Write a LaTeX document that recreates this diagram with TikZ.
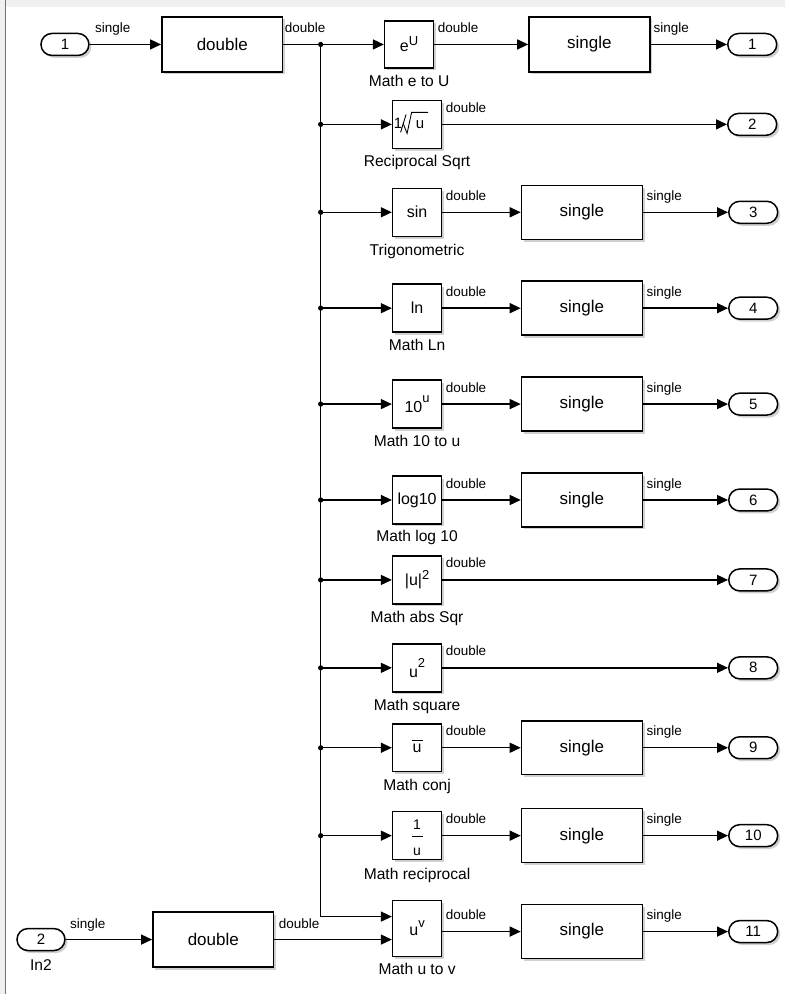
\documentclass[tikz,border=0pt]{standalone}
\usepackage{fontspec}
\setmainfont{Liberation Sans}
\usetikzlibrary{arrows.meta,shadows}
\newcommand\mysup[2]{\raisebox{#1pt}{\fontsize{13}{13}\selectfont #2}}
\begin{document}
\begin{tikzpicture}[x=1pt,y=-1pt,
  blk/.style={draw=black, line width=1.5pt, fill=white, inner sep=0pt,
    drop shadow={shadow xshift=2.5pt, shadow yshift=-2.5pt, opacity=0.3, fill=black!60}},
  conv/.style={blk, minimum width=121pt, minimum height=55pt, font=\fontsize{17}{19}\selectfont},
  mblk/.style={blk, minimum width=49pt, minimum height=48pt, font=\fontsize{16}{18}\selectfont},
  port/.style={blk, rounded corners=11pt, minimum width=49pt, minimum height=22pt, font=\fontsize{15}{17}\selectfont},
  sig/.style={font=\fontsize{13.5}{15}\selectfont, inner sep=0pt, anchor=base west},
  bcap/.style={font=\fontsize{15.6}{17}\selectfont, inner sep=0pt, anchor=base},
  plain/.style={line width=1.4pt},
  wire/.style={line width=1.4pt, -{Triangle[length=11pt,width=10pt]}},
  txt/.style={inner sep=0pt, font=\fontsize{16}{18}\selectfont}
]
% background
\fill[black!6] (0,0) rectangle (786,994);
\fill[white] (6,7) rectangle (786,994);
\draw[black!55, line width=1pt] (5.5,0) -- (5.5,994);
\useasboundingbox (0,0) rectangle (786,994);

% row 1
\node[port, minimum width=48pt] (in1) at (65,44) {1};
\node[conv] (c0) at (222.5,44) {double};
\node[mblk, minimum height=47pt] (m1) at (409.5,44) {e\mysup{6}{U}};
\node[conv] (s1) at (590,44) {single};
\node[port] (o1) at (753,44) {1};

% row 2
\node[mblk] (m2) at (417.5,124) {};
\node[port] (o2) at (753,124) {2};
% row 3
\node[mblk] (m3) at (417.5,212) {sin};
\node[conv, minimum height=54pt] (s3) at (582.5,212) {single};
\node[port] (o3) at (754,212) {3};
% row 4
\node[mblk] (m4) at (417.5,308) {ln};
\node[conv, minimum height=54pt] (s4) at (582.5,308) {single};
\node[port] (o4) at (754,308) {4};
% row 5
\node[mblk] (m5) at (417.5,404) {10\mysup{10}{u}};
\node[conv, minimum height=54pt] (s5) at (582.5,404) {single};
\node[port] (o5) at (754,404) {5};
% row 6
\node[mblk] (m6) at (417.5,500) {log10};
\node[conv, minimum height=54pt] (s6) at (582.5,500) {single};
\node[port] (o6) at (754,500) {6};
% row 7
\node[mblk] (m7) at (417.5,580) {|u|\mysup{6}{2}};
\node[port] (o7) at (754,580) {7};
% row 8
\node[mblk] (m8) at (417.5,668) {u\mysup{10}{2}};
\node[port] (o8) at (754,668) {8};
% row 9
\node[mblk] (m9) at (417.5,748) {};
\node[conv, minimum height=54pt] (s9) at (582.5,748) {single};
\node[port] (o9) at (754,748) {9};
% row 10
\node[mblk] (m10) at (417.5,836) {};
\node[conv, minimum height=54pt] (s10) at (582.5,836) {single};
\node[port] (o10) at (754,836) {10};
% row 11
\node[port, minimum width=48pt] (in2) at (41,940) {2};
\node[conv] (c11) at (213.5,940) {double};
\node[mblk, minimum height=56pt] (m11) at (417.5,929) {u\mysup{8}{v}};
\node[conv, minimum height=54pt] (s11) at (582.5,932) {single};
\node[port] (o11) at (754,932) {11};

% special block symbols
\begin{scope}[shift={(m2.center)}]
  \node[txt, font=\fontsize{15}{17}\selectfont] (m2a) at (-19,-1) {1};
  \node[txt, font=\fontsize{15}{17}\selectfont] (m2b) at (3,0) {u};
  \draw[line width=0.9pt] (-16.5,8) -- (-11,-10);
  \draw[line width=0.9pt] (-14,-1) -- (-10,9) -- (-5.5,-12) -- (11,-12);
\end{scope}
\begin{scope}[shift={(m9.center)}]
  \node[txt] (m9a) at (0,1) {u};
  \draw[line width=1pt] (-5,-7) -- (5.5,-7);
\end{scope}
\begin{scope}[shift={(m10.center)}]
  \node[txt, font=\fontsize{14}{16}\selectfont] (m10a) at (0,-11) {1};
  \node[txt, font=\fontsize{14}{16}\selectfont] (m10b) at (0,16) {u};
  \draw[line width=1pt] (-5,1) -- (5.5,1);
\end{scope}

% junctions
\foreach \k/\yy in {1/44,2/124,3/212,4/308,5/404,6/500,7/580,8/668,9/748,10/836}{
  \coordinate (j\k) at (321,\yy);
  \fill (j\k) circle (2.6);
}
\coordinate (jb) at (321,917);

% wires
\draw[wire] (in1) -- (c0);
\draw[plain] (c0) -- (j1);
\draw[plain] (j1) -- (j10);
\draw[wire] (j10) -- (jb) -- (m11.west |- jb);
\draw[wire] (j1) -- (m1);
\draw[wire] (m1) -- (s1);
\draw[wire] (s1) -- (o1);
\draw[wire] (j2) -- (m2);
\draw[wire] (m2) -- (o2);
\foreach \k in {3,4,5,6,9,10}{
  \draw[wire] (j\k) -- (m\k);
  \draw[wire] (m\k) -- (s\k);
  \draw[wire] (s\k) -- (o\k);
}
\foreach \k in {7,8}{
  \draw[wire] (j\k) -- (m\k);
  \draw[wire] (m\k) -- (o\k);
}
\draw[wire] (in2) -- (c11);
\draw[wire] (c11) -- (m11.west |- c11);
\draw[wire] (m11.east |- s11) -- (s11);
\draw[wire] (s11) -- (o11);

% signal labels
\node[sig] at (95,32) {single};
\node[sig] at (285,32) {double};
\node[sig] at (438,32) {double};
\node[sig] at (654,32) {single};
\node[sig] at (446,112) {double};
\foreach \yy in {212,308,404,500,748,836}{
  \node[sig] at (446,\yy-12) {double};
  \node[sig] at (647,\yy-12) {single};
}
\node[sig] at (446,568) {double};
\node[sig] at (446,656) {double};
\node[sig] at (446,920) {double};
\node[sig] at (647,920) {single};
\node[sig] at (70,929) {single};
\node[sig] at (279,929) {double};

% block captions
\node[bcap] at (409.5,86) {Math e to U};
\node[bcap] at (417.5,166) {Reciprocal Sqrt};
\node[bcap] at (417.5,255) {Trigonometric};
\node[bcap] at (417.5,350) {Math Ln};
\node[bcap] at (417.5,446) {Math 10 to u};
\node[bcap] at (417.5,542) {Math log 10};
\node[bcap] at (417.5,623) {Math abs Sqr};
\node[bcap] at (417.5,711) {Math square};
\node[bcap] at (417.5,791) {Math conj};
\node[bcap] at (417.5,880) {Math reciprocal};
\node[bcap] at (417.5,975) {Math u to v};
\node[bcap] at (41,971) {In2};
\end{tikzpicture}
\end{document}
